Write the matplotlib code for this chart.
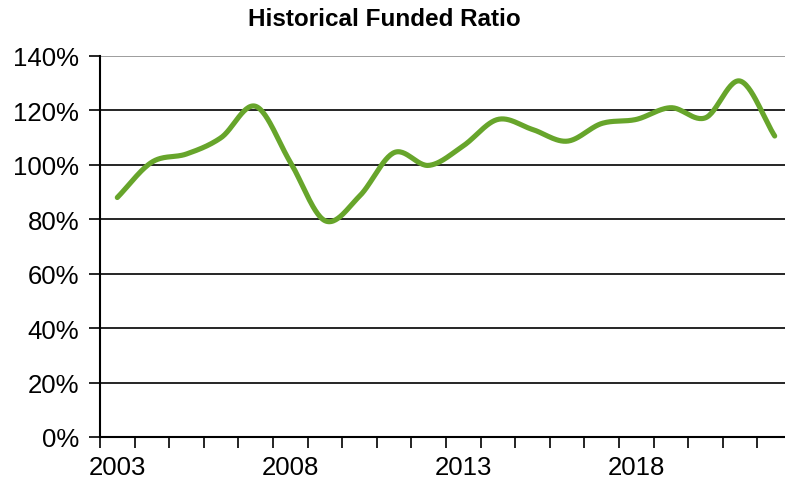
import numpy as np
import matplotlib
matplotlib.use("Agg")
import matplotlib.pyplot as plt
from matplotlib.ticker import FixedLocator, FuncFormatter

# Funded ratio by year (%)
years = list(range(2003, 2023))
funded_ratio = [88.0, 101.0, 104.0, 110.0, 121.5, 101.0, 79.5, 88.5, 104.5, 99.8,
                107.0, 116.7, 113.0, 108.7, 115.2, 116.7, 121.0, 117.3, 130.8, 110.6]
year_labels = ['2003', '2008', '2013', '2018']
y_ticks = [0, 20, 40, 60, 80, 100, 120, 140]


def smooth_curve(x, y, n=30):
    """Catmull-Rom style smoothing like Excel's smoothed line."""
    x = np.asarray(x, float)
    y = np.asarray(y, float)
    px = np.concatenate([[2 * x[0] - x[1]], x, [2 * x[-1] - x[-2]]])
    py = np.concatenate([[2 * y[0] - y[1]], y, [2 * y[-1] - y[-2]]])
    xs, ys = [], []
    t = np.linspace(0, 1, n)
    for i in range(1, len(px) - 2):
        p0, p1, p2, p3 = px[i - 1], px[i], px[i + 1], px[i + 2]
        q0, q1, q2, q3 = py[i - 1], py[i], py[i + 1], py[i + 2]
        # bezier control points
        c1x, c1y = p1 + (p2 - p0) / 6, q1 + (q2 - q0) / 6
        c2x, c2y = p2 - (p3 - p1) / 6, q2 - (q3 - q1) / 6
        bx = (1 - t) ** 3 * p1 + 3 * (1 - t) ** 2 * t * c1x + 3 * (1 - t) * t ** 2 * c2x + t ** 3 * p2
        by = (1 - t) ** 3 * q1 + 3 * (1 - t) ** 2 * t * c1y + 3 * (1 - t) * t ** 2 * c2y + t ** 3 * q2
        xs.extend(bx)
        ys.extend(by)
    return np.array(xs), np.array(ys)


plt.rcParams['font.family'] = ['Liberation Sans', 'DejaVu Sans']

fig = plt.figure(figsize=(7.85, 4.85), dpi=100)
ax = fig.add_axes([100 / 785, 47 / 485, 692 / 785, 381 / 485])

idx = np.arange(len(years))
sx, sy = smooth_curve(idx, funded_ratio)
ax.plot(sx, sy, color='#67A52B', linewidth=3.7, solid_capstyle='round', zorder=3)

ax.set_xlim(-0.5, len(years) - 0.5)
ax.set_ylim(0, 140)

# gridlines
for v in y_ticks[1:]:
    ax.axhline(v, color='#8c8c8c' if v == 140 else 'black', linewidth=1.2, zorder=1)

ax.yaxis.set_major_locator(FixedLocator(y_ticks))
ax.yaxis.set_major_formatter(FuncFormatter(lambda v, p: f"{v:.0f}%"))
ax.tick_params(axis='y', direction='out', length=8, width=1.2, labelsize=18.5, pad=7)

label_pos = [years.index(int(l)) for l in year_labels]
ax.set_xticks(label_pos)
ax.set_xticklabels(year_labels)
ax.set_xticks(np.arange(-0.5, len(years)), minor=True)
ax.tick_params(axis='x', which='major', length=0, labelsize=18.5, pad=13)
ax.tick_params(axis='x', which='minor', direction='out', length=8, width=1.2)

for side in ['top', 'right']:
    ax.spines[side].set_visible(False)
ax.spines['left'].set_linewidth(1.5)
ax.spines['bottom'].set_linewidth(1.5)

fig.text(384 / 785, 1 - 20 / 485, 'Historical Funded Ratio', ha='center', va='center',
         fontsize=17.5, fontweight='bold')

plt.savefig('out.png', dpi=100)
